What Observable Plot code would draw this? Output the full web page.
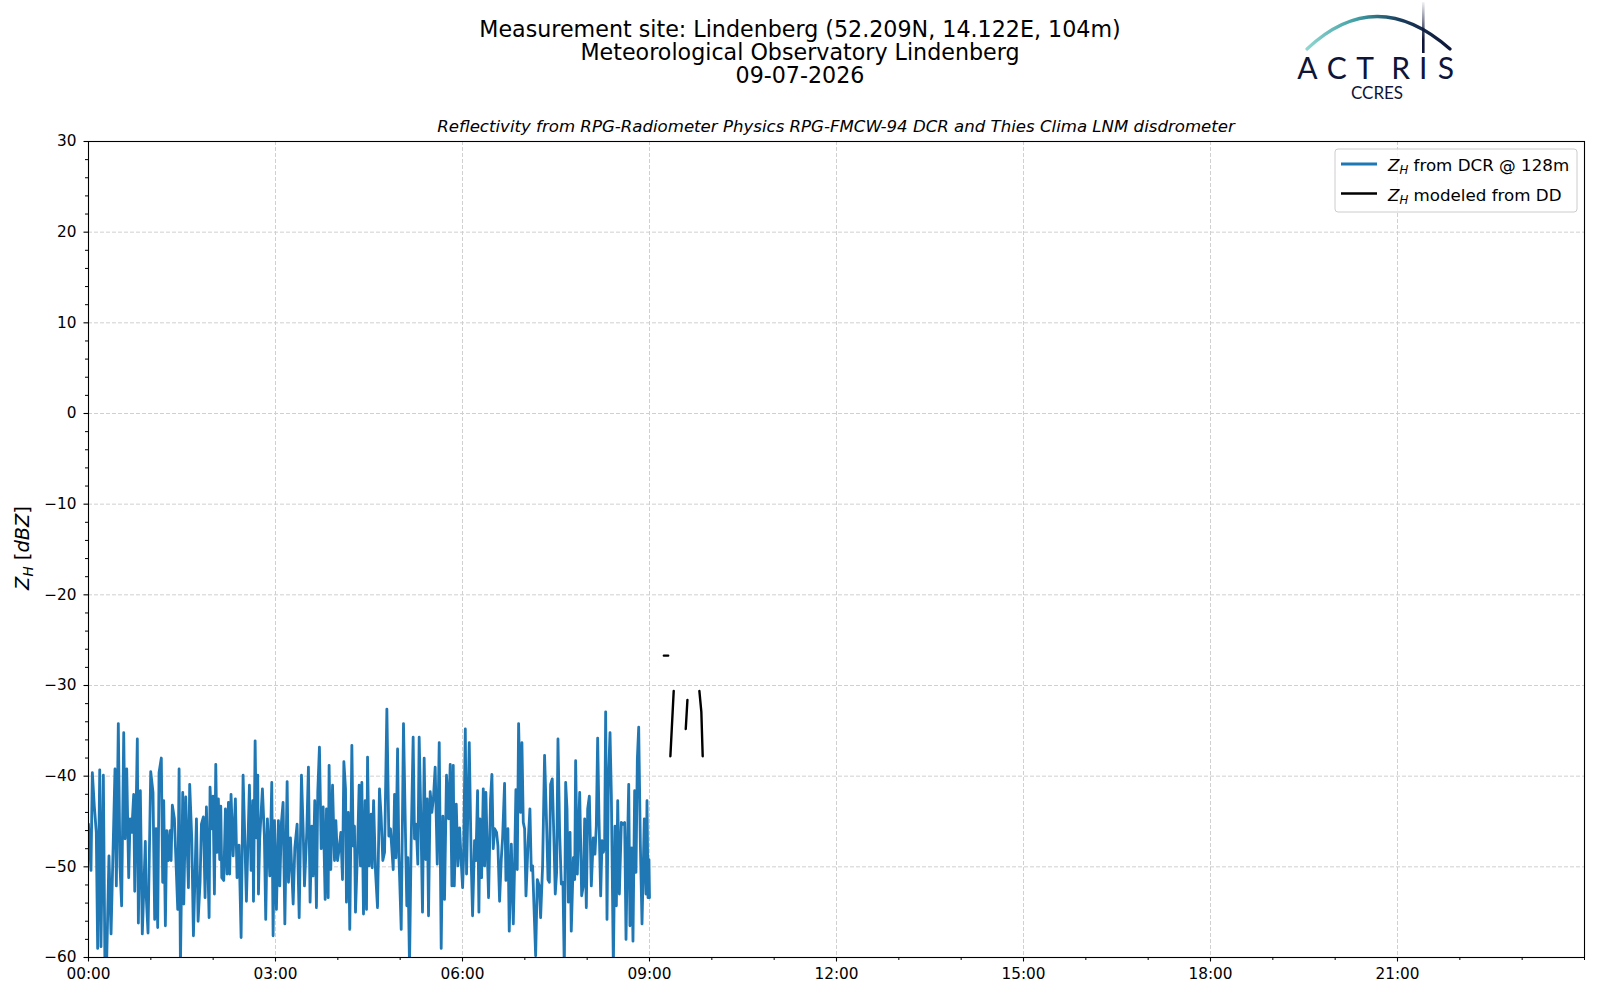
<!DOCTYPE html>
<html><head><meta charset="utf-8">
<script src="https://cdn.jsdelivr.net/npm/d3@7"></script>
<script src="https://cdn.jsdelivr.net/npm/@observablehq/plot@0.6"></script>
<style>
html,body{margin:0;padding:0;background:#fff;}
#wrap{position:relative;width:1600px;height:1000px;font-family:"DejaVu Sans",sans-serif;}
#wrap > svg{position:absolute;left:0;top:0;}
</style></head><body><div id="wrap"></div>
<script>
// ---- Data (minutes after 00:00 UTC, reflectivity in dBZ) ----
const dcrMinutes = [
 0,2.4,3.7,5.6,7.5,8.8,10.8,12.0,14.3,15.9,17.2,19.7,21.7,25.5,26.8,28.7,30.3,31.9,33.9,35.2,36.8,38.7,40.0,41.6,43.5,44.5,47.0,48.0,49.9,51.8,54.7,55.4,57.3,59.9,62.1,63.7,65.0,66.6,67.9,70.1,71.4,72.4,74.0,75.3,76.9,78.5,79.5,80.7,82.7,
 85.9,87.2,88.5,90.7,91.7,93.6,96.2,97.4,99.4,101.0,102.6,103.9,105.5,107.4,108.7,110.6,112.2,113.5,116.1,117.0,118.6,119.9,121.2,122.5,123.8,125.0,126.3,127.3,128.3,130.2,131.8,133.4,134.7,135.9,137.2,139.2,141.4,143.0,144.9,146.9,148.8,150.1,152.0,154.9,156.5,158.1,158.8,160.4,161.6,162.9,163.6,164.8,167.4,169.3,170.6,172.2,
 174.5,176.4,177.7,179.0,180.9,182.8,184.1,185.7,187.3,189.0,191.2,192.5,194.4,197.0,198.6,200.8,202.8,205.0,206.6,207.9,210.1,211.7,213.3,215.0,216.2,217.8,219.4,220.7,222.3,224.0,225.9,227.8,229.1,230.7,231.6,233.2,234.9,236.8,238.1,239.7,241.3,242.9,244.5,245.8,247.4,248.3,250.0,251.5,253.5,254.8,256.0,257.0,258.9,260.5,261.8,
 263.1,264.7,266.3,267.6,268.6,270.2,272.1,273.1,274.4,276.3,278.2,280.1,281.7,283.3,285.0,287.2,289.1,290.7,293.3,294.6,295.9,297.5,298.7,301.0,303.2,305.5,306.4,307.4,309.0,310.6,312.5,313.8,315.4,317.0,318.3,320.2,321.5,323.1,324.7,326.0,327.3,328.9,330.5,332.1,333.7,335.7,337.6,338.6,339.5,341.1,342.7,344.6,346.6,348.2,349.8,
 351.1,352.1,354.0,355.6,357.2,358.8,360.1,361.0,362.7,363.9,366.5,368.4,369.7,371.6,372.9,374.5,375.8,376.8,378.4,380.0,381.3,382.5,383.8,385.1,387.0,388.3,389.6,390.9,392.8,394.1,395.7,397.3,398.6,400.5,401.8,403.7,405.0,407.0,408.9,410.1,411.4,412.7,414.0,415.9,417.2,418.5,419.8,421.1,423.0,424.9,426.2,427.5,429.1,430.4,432.0,433.9,435.2,437.1,439.0,
 441.0,442.3,443.6,444.8,446.4,448.0,449.3,450.6,451.9,453.5,455.1,456.7,458.0,459.3,460.6,461.9,463.5,464.7,466.7,468.0,468.9,470.5,472.8,474.7,476.3,477.6,479.2,480.5,482.1,484.0,485.9,487.5,488.8,490.1,491.4,493.0,494.3,495.6,496.8,497.8,499.1,500.4,502.0,503.3,505.2,506.8,508.1,509.4,511.0,512.9,514.5,516.1,517.4,518.7,520.0,521.2,522.8,524.1,525.7,527.0,528.3,529.6,
 531.2,532.8,535.0,536.6,537.6,538.6,539.5,540.0
];
const dcrZh = [
 -45.3,-50.4,-39.6,-43.3,-46.2,-59.0,-39.3,-58.8,-39.9,-62,-62,-48.8,-57.4,-39.2,-52.1,-34.2,-49.9,-54.3,-35.2,-46.9,-39.2,-51.2,-44.7,-46.2,-42.0,-52.7,-35.9,-56.2,-41.6,-57.4,-47.2,-52.8,-57.3,-39.5,-41.8,-55.8,-45.8,-56.7,-39.6,-38.0,-51.7,-42.7,-56.5,-46.0,-49.3,-46.0,-49.3,-43.2,-44.7,
 -54.7,-39.2,-61,-41.8,-54.1,-42.3,-52.3,-40.9,-46.9,-57.6,-50.6,-44.7,-56.0,-51.7,-45.3,-44.5,-53.4,-43.4,-55.6,-41.2,-45.8,-42.2,-53.0,-38.7,-48.4,-42.5,-49.2,-43.3,-51.2,-51.5,-43.6,-50.8,-42.9,-50.8,-42.0,-48.8,-42.5,-51.2,-47.6,-57.8,-39.9,-45.3,-53.8,-41.0,-50.4,-42.7,-53.8,-36.1,-46.8,-39.9,-53.0,-46.9,-41.4,-46.6,-55.8,-44.7,
 -51.0,-40.7,-57.6,-44.9,-54.7,-44.9,-52.1,-45.1,-42.9,-56.3,-40.6,-51.7,-46.8,-54.1,-47.9,-45.3,-55.6,-39.9,-45.8,-52.1,-46.2,-39.0,-53.9,-45.5,-51.0,-42.7,-54.5,-41.7,-36.8,-48.0,-43.4,-53.6,-43.6,-53.4,-38.8,-50.3,-41.0,-49.3,-44.9,-49.3,-48.0,-46.2,-51.4,-38.4,-41.4,-53.9,-44.0,-56.9,-36.6,-47.7,-45.5,-55.0,-48.4,-41.0,-49.9,
 -40.7,-55.2,-42.7,-54.7,-37.9,-49.9,-44.2,-50.1,-42.7,-50.6,-54.5,-41.4,-44.5,-49.3,-48.4,-32.6,-46.6,-45.8,-50.3,-42.0,-49.0,-37.0,-48.4,-56.9,-34.2,-48.8,-54.3,-49.0,-61,-47.1,-35.7,-46.9,-45.3,-49.7,-35.7,-46.2,-55.0,-38.0,-49.2,-42.5,-55.4,-41.7,-44.0,-42.3,-39.0,-49.7,-36.3,-48.2,-59.0,-44.4,-53.6,-39.9,-44.7,-38.7,-52.1,
 -38.8,-52.1,-43.1,-49.9,-45.7,-49.5,-52.3,-49.2,-34.8,-50.8,-36.3,-49.5,-55.4,-47.1,-49.3,-41.6,-55.0,-44.7,-51.2,-41.4,-49.9,-41.8,-48.0,-53.4,-42.5,-39.8,-48.0,-45.8,-46.2,-47.7,-53.8,-49.2,-46.8,-40.8,-51.5,-45.8,-57.1,-47.5,-56.3,-50.1,-41.5,-50.3,-34.2,-44.0,-36.3,-45.1,-45.8,-53.2,-47.7,-43.6,-50.4,-49.9,-55.4,-59.8,-51.4,-52.1,-55.6,-49.9,-37.7,
 -45.5,-51.4,-51.7,-40.9,-40.3,-46.9,-53.0,-50.6,-35.9,-46.2,-51.9,-51.7,-61.5,-40.7,-43.6,-53.9,-46.2,-57.1,-49.0,-51.4,-38.3,-50.8,-41.8,-53.2,-52.1,-44.7,-54.5,-43.6,-42.2,-52.1,-46.8,-48.6,-45.5,-35.8,-44.7,-53.2,-47.1,-48.4,-47.7,-32.9,-55.8,-40.7,-35.2,-42.2,-61,-45.5,-54.3,-42.7,-53.0,-45.1,-45.3,-45.1,-58.0,-48.4,-40.9,-56.5,-47.9,-58.2,-41.6,-50.6,-38.1,-34.6,
 -47.5,-56.3,-44.7,-53.0,-42.7,-53.4,-49.2,-53.4
];
// disdrometer-modeled Z_H (NaN = no data)
const ddMinutes = [553.8,558.0,559.0,560.1,563.3,570.0,574.9,576.5,580.0,588.0,589.9,591.2];
const ddZh      = [-26.7,-26.7,NaN,-37.8,-30.6,NaN,-34.8,-31.6,NaN,-30.6,-32.9,-37.8];

const xMajorHours = [0,3,6,9,12,15,18,21];
const xMinorHours = d3.range(0,25).filter(h => h % 3 !== 0 || h === 24);
const yMajor = [-60,-50,-40,-30,-20,-10,0,10,20,30];
const yMinor = d3.range(-60,31,2).filter(v => v % 10 !== 0);

const titleLines = ["Measurement site: Lindenberg (52.209N, 14.122E, 104m)","Meteorological Observatory Lindenberg","09-07-2026"];
const subTitle = "Reflectivity from RPG-Radiometer Physics RPG-FMCW-94 DCR and Thies Clima LNM disdrometer";
const legendLabels = [" from DCR @ 128m"," modeled from DD"];

const dcr = dcrMinutes.map((m,i) => ({h: m/60, v: dcrZh[i]}));
const dd = ddMinutes.map((m,i) => ({h: m/60, v: ddZh[i]}));

const pad = n => String(n).padStart(2,"0");
const fmtH = h => pad(h) + ":00";
const fmtY = v => v < 0 ? "\u2212" + Math.abs(v) : String(v);

const gridStyle = {stroke:"#d0d0d0", strokeOpacity:1, strokeWidth:1, strokeDasharray:"4,2"};

const chart = Plot.plot({
  width: 1600, height: 1000,
  marginLeft: 88, marginRight: 16, marginTop: 141, marginBottom: 43,
  style: {fontFamily: "DejaVu Sans", fontSize: "15.3px", color: "black", background: "white", overflow: "visible"},
  x: {domain: [0, 24], label: null},
  y: {domain: [-60, 30], label: null},
  marks: [
    Plot.gridX(xMajorHours.filter(h => h > 0), gridStyle),
    Plot.gridY(yMajor.filter(v => v > -60 && v < 30), gridStyle),
    Plot.line(dcr, {x: "h", y: "v", stroke: "#1f77b4", strokeWidth: 2.8, clip: true}),
    Plot.line(dd, {x: "h", y: "v", stroke: "black", strokeWidth: 2.4, clip: true}),
    Plot.axisX(xMinorHours, {tickSize: 3, tickFormat: () => "", label: null, strokeWidth: 1}),
    Plot.axisX(xMajorHours, {tickSize: 4.5, tickPadding: 6.5, tickFormat: fmtH, label: null, strokeWidth: 1.1}),
    Plot.axisY(yMinor, {tickSize: 3, tickFormat: () => "", label: null, strokeWidth: 1}),
    Plot.axisY(yMajor, {tickSize: 4.5, tickPadding: 7.5, tickFormat: fmtY, label: null, strokeWidth: 1.1}),
    Plot.frame({stroke: "black", strokeWidth: 1.1})
  ]
});
const wrap = document.getElementById("wrap");
wrap.appendChild(chart);

const navy = "#0e1538";
const letters = [["A",1307.4],["C",1336.7],["T",1365],["R",1400.7],["I",1423.3],["S",1446]];
const overlay = `
<svg width="1600" height="1000" xmlns="http://www.w3.org/2000/svg" style="pointer-events:none;font-family:'DejaVu Sans',sans-serif">
  <defs>
    <linearGradient id="arcg" gradientUnits="userSpaceOnUse" x1="1307" y1="0" x2="1450" y2="0">
      <stop offset="0" stop-color="#8fd6d0"/>
      <stop offset="0.35" stop-color="#3f9ea3"/>
      <stop offset="0.65" stop-color="#1a3d5c"/>
      <stop offset="1" stop-color="${navy}"/>
    </linearGradient>
    <linearGradient id="vg" gradientUnits="userSpaceOnUse" x1="0" y1="2" x2="0" y2="40">
      <stop offset="0" stop-color="${navy}" stop-opacity="0.05"/>
      <stop offset="1" stop-color="${navy}" stop-opacity="1"/>
    </linearGradient>
  </defs>
  <text text-anchor="middle" font-size="22.2" fill="black">${titleLines.map((t,i) => `<tspan x="800" y="${36.5 + i*23}">${t}</tspan>`).join("")}</text>
  <text x="836" y="131.5" text-anchor="middle" font-size="16.6" font-style="italic" fill="black">${subTitle}</text>
  <path d="M1307,49 Q1376,-16 1450,49" fill="none" stroke="url(#arcg)" stroke-width="3.2" stroke-linecap="round"/>
  <line x1="1423.3" y1="2" x2="1423.3" y2="53" stroke="url(#vg)" stroke-width="2.6"/>
  ${letters.map(([c,x]) => `<text x="${x}" y="78.5" text-anchor="middle" font-family="Lato" font-size="30" fill="${navy}">${c}</text>`).join("")}
  <text x="1377" y="98.5" text-anchor="middle" font-family="Lato" font-size="17" fill="${navy}">CCRES</text>
  <rect x="1335" y="149" width="242" height="63" rx="3" fill="white" fill-opacity="0.8" stroke="#cccccc" stroke-width="1"/>
  <line x1="1341" y1="164" x2="1377" y2="164" stroke="#1f77b4" stroke-width="2.8"/>
  <line x1="1341" y1="193.5" x2="1377" y2="193.5" stroke="black" stroke-width="2.6"/>
  ${legendLabels.map((t,i) => `<text x="1388" y="${170.5 + i*30}" font-size="16.7" fill="black" style="white-space:pre"><tspan font-style="italic">Z</tspan><tspan font-style="italic" font-size="11.7" dy="3.5">H</tspan><tspan dy="-3.5">${t}</tspan></text>`).join("")}
  <text transform="translate(28.5,548) rotate(-90)" text-anchor="middle" font-size="19.4" fill="black" style="white-space:pre"><tspan font-style="italic">Z</tspan><tspan font-style="italic" font-size="13.6" dy="4">H</tspan><tspan dy="-4"> [</tspan><tspan font-style="italic">dBZ</tspan><tspan>]</tspan></text>
</svg>`;
wrap.insertAdjacentHTML("beforeend", overlay);
</script></body></html>
